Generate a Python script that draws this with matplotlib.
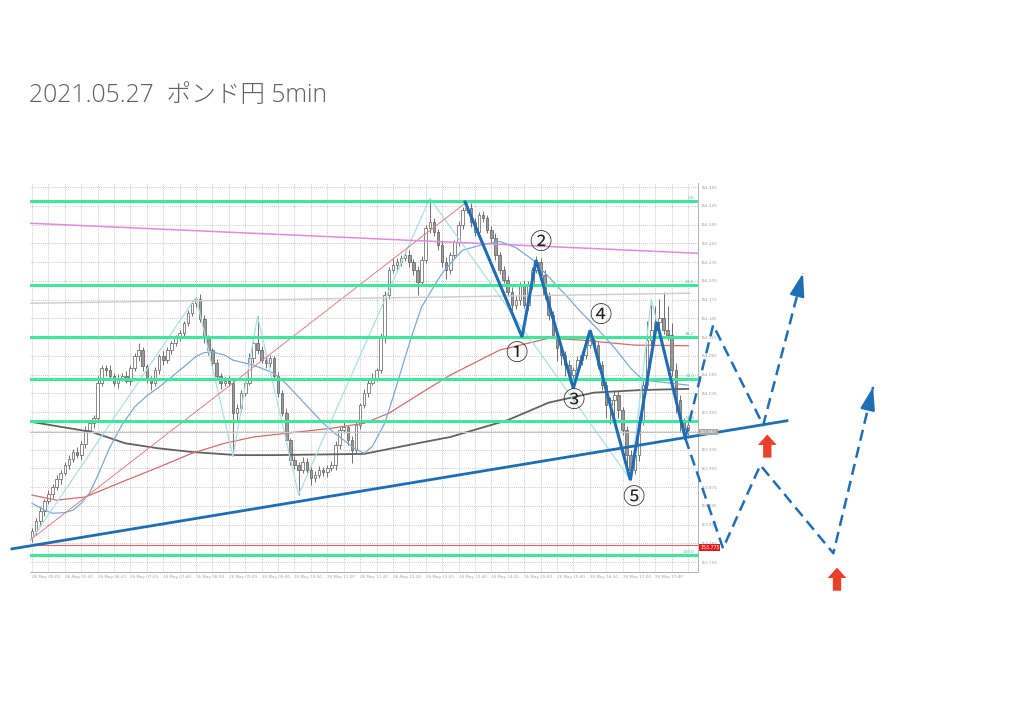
import numpy as np
import matplotlib.pyplot as plt
from matplotlib.transforms import blended_transform_factory

# 5 min candles, GBP/JPY
closes = [
    153.804, 153.820, 153.836, 153.852, 153.864, 153.875, 153.888, 153.898, 153.910, 153.920,
    153.931, 153.926, 153.944, 153.967, 153.978, 153.986, 154.042, 154.065, 154.062, 154.053,
    154.042, 154.050, 154.053, 154.045, 154.065, 154.084, 154.094, 154.068, 154.047, 154.042,
    154.062, 154.084, 154.078, 154.094, 154.105, 154.113, 154.121, 154.137, 154.153, 154.169,
    154.176, 154.144, 154.113, 154.094, 154.073, 154.053, 154.042, 154.045, 154.042, 153.994,
    154.002, 154.026, 154.042, 154.081, 154.105, 154.094, 154.078, 154.073, 154.081, 154.053,
    154.026, 153.994, 153.950, 153.918, 153.910, 153.902, 153.915, 153.902, 153.889, 153.894,
    153.902, 153.899, 153.906, 153.910, 153.942, 153.966, 153.971, 153.950, 153.934, 153.974,
    154.006, 154.026, 154.042, 154.050, 154.062, 154.113, 154.182, 154.222, 154.230, 154.235,
    154.241, 154.246, 154.235, 154.222, 154.203, 154.238, 154.289, 154.299, 154.283, 154.262,
    154.235, 154.222, 154.246, 154.267, 154.294, 154.318, 154.321, 154.299, 154.283, 154.310,
    154.305, 154.286, 154.273, 154.246, 154.222, 154.206, 154.187, 154.166, 154.174, 154.198,
    154.166, 154.198, 154.222, 154.235, 154.214, 154.182, 154.150, 154.118, 154.097, 154.086,
    154.070, 154.054, 154.062, 154.078, 154.086, 154.102, 154.110, 154.102, 154.070, 154.038,
    154.006, 154.014, 154.022, 153.998, 153.966, 153.926, 153.902, 153.926, 153.982, 154.038,
    154.110, 154.126, 154.139, 154.145, 154.126, 154.118, 154.062, 154.014, 153.979, 153.966,
    153.974]
first_open = 153.795

# wick lengths in 0.001 yen
upper_wicks = [
    6, 5, 8, 4, 6, 5, 7, 4, 5, 6,
    5, 8, 4, 6, 5, 4, 10, 6, 5, 8,
    4, 6, 5, 7, 5, 6, 12, 5, 4, 6,
    5, 4, 8, 5, 4, 6, 5, 4, 6, 5,
    3, 8, 6, 5, 4, 7, 5, 6, 8, 5,
    6, 5, 4, 8, 6, 43, 7, 6, 5, 4,
    6, 5, 7, 4, 6, 5, 8, 6, 5, 7,
    6, 5, 4, 7, 6, 5, 8, 4, 6, 5,
    4, 6, 5, 7, 4, 8, 6, 5, 10, 6,
    5, 6, 8, 5, 6, 7, 6, 38, 7, 5,
    6, 8, 5, 4, 6, 5, 9, 8, 6, 5,
    7, 5, 6, 8, 5, 6, 7, 8, 6, 5,
    7, 6, 5, 9, 6, 8, 5, 7, 6, 5,
    6, 8, 5, 7, 6, 5, 6, 8, 5, 6,
    7, 5, 8, 6, 5, 6, 8, 5, 6, 10,
    30, 40, 25, 31, 42, 38, 20, 12, 8, 6,
    5]
lower_wicks = [
    8, 6, 5, 7, 4, 6, 5, 8, 4, 6,
    5, 4, 7, 6, 5, 8, 4, 6, 10, 5,
    6, 8, 5, 4, 6, 5, 7, 8, 5, 12,
    5, 6, 8, 4, 6, 5, 4, 6, 5, 4,
    6, 5, 7, 8, 6, 5, 10, 6, 5, 70,
    12, 6, 5, 4, 7, 6, 5, 8, 6, 5,
    7, 6, 5, 8, 6, 39, 5, 7, 10, 6,
    5, 6, 8, 5, 7, 6, 4, 8, 20, 5,
    6, 5, 7, 4, 6, 5, 8, 6, 5, 7,
    6, 5, 8, 7, 20, 6, 5, 8, 6, 7,
    8, 14, 6, 5, 7, 6, 5, 8, 6, 5,
    6, 5, 7, 8, 6, 5, 7, 10, 6, 8,
    5, 7, 6, 5, 8, 6, 7, 5, 20, 15,
    18, 10, 6, 5, 7, 6, 5, 8, 6, 7,
    20, 30, 25, 12, 8, 18, 16, 6, 10, 8,
    6, 8, 5, 7, 6, 8, 10, 20, 15, 12,
    8]

# indicator lines (bar index, price)
long_ma_idx = [0, 14.6, 22.7, 30.7, 39, 50, 59, 81, 94, 102, 116, 126, 137, 148, 160]
long_ma_val = [153.979, 153.963, 153.945, 153.937, 153.931, 153.926, 153.926, 153.928,
               153.945, 153.955, 153.982, 154.010, 154.026, 154.030, 154.032]
red_ma_idx = [0, 6, 13, 23, 31, 39, 47, 54, 73, 81, 87, 96, 102, 114, 126, 134, 147, 160]
red_ma_val = [153.862, 153.854, 153.859, 153.886, 153.907, 153.929, 153.945, 153.955,
              153.969, 153.977, 153.993, 154.030, 154.054, 154.094, 154.113, 154.110,
              154.102, 154.101]
blue_ma_idx = [0, 3, 5, 8, 10, 12, 14, 16, 19, 22, 25, 28, 31, 34, 37, 40, 42, 44, 47, 49,
               54, 59, 62, 65, 68, 71, 74, 77, 79, 81, 83, 86, 88, 91, 93, 95, 98, 100, 103,
               105, 110, 114, 118, 122, 126, 130, 134, 138, 142, 146, 149, 152, 156, 160]
blue_ma_val = [153.849, 153.838, 153.833, 153.834, 153.838, 153.849, 153.865, 153.893,
               153.939, 153.975, 154.003, 154.021, 154.035, 154.051, 154.067, 154.084,
               154.090, 154.091, 154.086, 154.078, 154.070, 154.057, 154.040, 154.019,
               153.998, 153.977, 153.960, 153.945, 153.935, 153.929, 153.940, 153.977,
               154.018, 154.083, 154.125, 154.163, 154.196, 154.217, 154.240, 154.254,
               154.263, 154.268, 154.258, 154.239, 154.211, 154.183, 154.154, 154.127,
               154.098, 154.065, 154.046, 154.044, 154.041, 154.038]
zigzag_idx = [0, 40, 49, 55, 65, 97, 146, 151, 159]
zigzag_val = [153.792, 154.179, 153.924, 154.148, 153.863, 154.337, 153.886, 154.176, 153.958]

fib_labels = ['0.0', '23.6', '38.2', '50.0', '61.8', '100.0']
fib_prices = [154.333, 154.198, 154.115, 154.048, 153.981, 153.766]
fib_diag_idx = [-0.5, 105.6]
fib_diag_val = [153.790, 154.329]
pink_idx = [-0.5, 162.4]
pink_val = [154.297, 154.249]
gray_idx = [-0.5, 160.5]
gray_val = [154.169, 154.185]
bid_price = 153.963
ask_price = 153.782

# hand drawn wave count and scenarios
wave_idx = [105.6, 119.5, 122.9, 132.0, 136.1, 145.9, 152.4, 159.3]
wave_val = [154.331, 154.115, 154.238, 154.033, 154.126, 153.886, 154.139, 153.953]
trend_idx = [-4.9, 184.1]
trend_val = [153.776, 153.981]
up_path_idx = [159.3, 166.1, 178.3, 188.0]
up_path_val = [153.953, 154.134, 153.974, 154.217]
down_path_idx = [159.3, 168.5, 177.6, 195.4, 205.1]
down_path_val = [153.953, 153.777, 153.910, 153.769, 154.035]

time_labels = ['05:00', '05:40', '06:20', '07:00', '07:40', '08:20', '09:00', '09:40',
               '10:20', '11:00', '11:40', '12:20', '13:00', '13:40', '14:20', '15:00',
               '15:40', '16:20', '17:00', '17:40']
price_ticks = [154.355, 154.325, 154.295, 154.265, 154.235, 154.205, 154.175, 154.145,
               154.115, 154.085, 154.055, 154.025, 153.995, 153.965, 153.935, 153.905,
               153.875, 153.845, 153.815, 153.785, 153.755]

fig = plt.figure(figsize=(10.24, 7.22), dpi=100)
ax = fig.add_axes([30 / 1024, 150 / 722, 668 / 1024, 389 / 722])

n = len(closes)
x = np.arange(n)
opens = [first_open] + closes[:-1]
highs = [max(o, c) + w * 0.001 for o, c, w in zip(opens, closes, upper_wicks)]
lows = [min(o, c) - w * 0.001 for o, c, w in zip(opens, closes, lower_wicks)]

# candles
ax.vlines(x, lows, highs, color='#5a5a5a', lw=0.6, zorder=2)
bottoms = [min(o, c) for o, c in zip(opens, closes)]
heights = [max(abs(c - o), 0.0012) for o, c in zip(opens, closes)]
fcols = ['white' if c >= o else '#9a9a9a' for o, c in zip(opens, closes)]
ax.bar(x, heights, bottom=bottoms, width=0.62, color=fcols, edgecolor='#5a5a5a',
       linewidth=0.5, zorder=2.5)

# indicators
ax.plot(long_ma_idx, long_ma_val, color='#626262', lw=1.3, zorder=3)
ax.plot(red_ma_idx, red_ma_val, color='#d96b6b', lw=0.9, zorder=3)
ax.plot(blue_ma_idx, blue_ma_val, color='#7aaad6', lw=0.9, zorder=3)
ax.plot(zigzag_idx, zigzag_val, color='#aadfe8', lw=0.9, zorder=3)

# objects
for lab, p in zip(fib_labels, fib_prices):
    ax.axhline(p, color='#3de89a', lw=2.2, zorder=4)
    ax.text(161.5, p + 0.002, lab, fontsize=3, color='#3dcf8a', ha='right', va='bottom',
            zorder=4)
ax.plot(fib_diag_idx, fib_diag_val, color='#e07f7f', lw=0.7, zorder=3)
ax.plot(pink_idx, pink_val, color='#e08ae0', lw=1.1, zorder=3)
ax.plot(gray_idx, gray_val, color='#cccccc', lw=1.0, zorder=3)
ax.axhline(bid_price, color='#c4c4c4', lw=0.8, zorder=3)
ax.axhline(ask_price, color='#e06060', lw=0.8, zorder=3)

tr = blended_transform_factory(ax.transAxes, ax.transData)
ax.text(1.003, bid_price, '153.963', transform=tr, fontsize=3, color='white', va='center',
        bbox=dict(boxstyle='square,pad=0.2', fc='#a8a8a8', ec='none'), zorder=6)
ax.text(1.003, ask_price - 0.004, '153.775', transform=tr, fontsize=3.4, color='white',
        va='center', bbox=dict(boxstyle='square,pad=0.2', fc='#e02020', ec='none'), zorder=6)

blue = '#1f6db4'
ax.plot(wave_idx, wave_val, color=blue, lw=2.2, zorder=5, solid_joinstyle='miter')
ax.plot(trend_idx, trend_val, color=blue, lw=2.0, zorder=5, clip_on=False)
for px, pv in [(up_path_idx, up_path_val), (down_path_idx, down_path_val)]:
    ax.plot(px, pv, color=blue, lw=1.8, ls=(0, (4.5, 2.5)), zorder=5, clip_on=False)
    ax.annotate('', xy=(px[-1], pv[-1]),
                xytext=(px[-1] - (px[-1] - px[-2]) * 0.1, pv[-1] - (pv[-1] - pv[-2]) * 0.1),
                arrowprops=dict(arrowstyle='-|>,head_length=1.4,head_width=0.45',
                                color=blue, lw=1.6, shrinkA=0, shrinkB=0),
                annotation_clip=False, zorder=6)

# red up arrows
for ai, tail, tip in [(179.3, 153.922, 153.959), (196.3, 153.709, 153.746)]:
    ax.annotate('', xy=(ai, tip), xytext=(ai, tail),
                arrowprops=dict(arrowstyle='simple,head_length=0.75,head_width=1.35,tail_width=0.6',
                                fc='#e8402a', ec='none', mutation_scale=10,
                                shrinkA=0, shrinkB=0),
                annotation_clip=False, zorder=6)

# wave numbers
for lab, wi, wv in [('①', 118, 154.089), ('②', 123.9, 154.267), ('③', 132, 154.013),
                    ('④', 138.5, 154.149), ('⑤', 146.6, 153.859)]:
    ax.text(wi, wv, lab, fontsize=16, family=['Noto Sans CJK JP', 'DejaVu Sans'],
            color='#222222', ha='center', va='center', zorder=7)

# axes styling
ax.set_xlim(-0.5, 162.4)
ax.set_ylim(153.739, 154.3614)
ax.set_xticks(np.arange(0, 153, 8))
ax.set_xticks(np.arange(0, 161, 4), minor=True)
ax.set_xticklabels(['26 May ' + t for t in time_labels], ha='left')
ax.set_yticks(price_ticks)
ax.set_yticklabels(['%.3f' % p for p in price_ticks])
ax.yaxis.tick_right()
ax.tick_params(axis='both', which='both', labelsize=3, colors='#a0a0a0', length=0, pad=2)
ax.grid(True, which='both', axis='x', color='#b8b8b8', ls=(0, (1, 1.5)), lw=0.6)
ax.grid(True, which='major', axis='y', color='#b8b8b8', ls=(0, (1, 1.5)), lw=0.6)
ax.set_axisbelow(True)
for s in ['left', 'top']:
    ax.spines[s].set_visible(False)
for s in ['right', 'bottom']:
    ax.spines[s].set_color('#b0b0b0')
    ax.spines[s].set_linewidth(0.7)

fig.text(29 / 1024, 1 - 102 / 722, '2021.05.27  ポンド円 5min', fontsize=17.7,
         family=['Open Sans', 'Noto Sans CJK JP'], weight='light', color='#606060',
         va='baseline')

plt.savefig('out.png', dpi=100)
